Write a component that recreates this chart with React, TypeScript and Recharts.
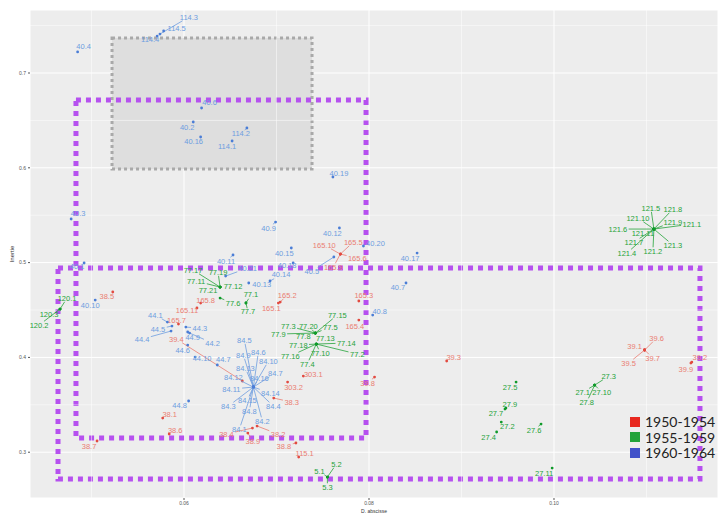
import React from 'react';
import {
  ScatterChart, Scatter, XAxis, YAxis, CartesianGrid, ReferenceArea, ReferenceLine,
} from 'recharts';

// points per period (x = D. abscisse, y = Inertie)
const red1950 = [
  { name: '165.10', x: 0.0769, y: 0.509 }, { name: '165.5', x: 0.0769, y: 0.509 },
  { name: '165.6', x: 0.0769, y: 0.509 }, { name: '165.9', x: 0.0769, y: 0.509 },
  { name: '165.3', x: 0.0789, y: 0.4595 }, { name: '165.4', x: 0.0789, y: 0.4394 },
  { name: '165.2', x: 0.0704, y: 0.4584 }, { name: '165.1', x: 0.0702, y: 0.4573 },
  { name: '165.8', x: 0.0618, y: 0.4573 }, { name: '165.11', x: 0.0614, y: 0.4521 },
  { name: '165.7', x: 0.0594, y: 0.4352 }, { name: '39.4', x: 0.0663, y: 0.3751 },
  { name: '38.5', x: 0.0523, y: 0.469 }, { name: '38.1', x: 0.0577, y: 0.336 },
  { name: '38.6', x: 0.0584, y: 0.3192 }, { name: '38.7', x: 0.0506, y: 0.3118 },
  { name: '38.3', x: 0.0697, y: 0.3571 }, { name: '303.2', x: 0.0712, y: 0.374 },
  { name: '303.1', x: 0.0729, y: 0.3803 }, { name: '38.4', x: 0.0674, y: 0.3255 },
  { name: '38.2', x: 0.0679, y: 0.3276 }, { name: '38.9', x: 0.0669, y: 0.3202 },
  { name: '38.8', x: 0.0721, y: 0.3097 }, { name: '115.1', x: 0.0724, y: 0.2949 },
  { name: '39.3', x: 0.0884, y: 0.3962 }, { name: '39.8', x: 0.0806, y: 0.3793 },
  { name: '39.1', x: 0.1098, y: 0.4078 }, { name: '39.6', x: 0.1098, y: 0.4078 },
  { name: '39.5', x: 0.1098, y: 0.4078 }, { name: '39.7', x: 0.1098, y: 0.4078 },
  { name: '39.2', x: 0.1149, y: 0.3951 }, { name: '39.9', x: 0.1148, y: 0.394 },
];

const green1955 = [
  { name: '121.5', x: 0.1108, y: 0.5354 }, { name: '121.8', x: 0.1108, y: 0.5354 },
  { name: '121.10', x: 0.1108, y: 0.5354 }, { name: '121.9', x: 0.1108, y: 0.5354 },
  { name: '121.1', x: 0.1108, y: 0.5354 }, { name: '121.6', x: 0.1108, y: 0.5354 },
  { name: '121.11', x: 0.1108, y: 0.5354 }, { name: '121.7', x: 0.1108, y: 0.5354 },
  { name: '121.3', x: 0.1108, y: 0.5354 }, { name: '121.2', x: 0.1108, y: 0.5354 },
  { name: '121.4', x: 0.1108, y: 0.5354 },
  { name: '120.1', x: 0.0466, y: 0.451 }, { name: '120.3', x: 0.0466, y: 0.451 },
  { name: '120.2', x: 0.0466, y: 0.451 },
  { name: '77.17', x: 0.0639, y: 0.4742 }, { name: '77.19', x: 0.0639, y: 0.4742 },
  { name: '77.11', x: 0.0639, y: 0.4742 }, { name: '77.12', x: 0.0639, y: 0.4742 },
  { name: '77.21', x: 0.0639, y: 0.4742 }, { name: '77.6', x: 0.0639, y: 0.4626 },
  { name: '77.1', x: 0.0667, y: 0.4574 }, { name: '77.7', x: 0.0667, y: 0.4574 },
  { name: '77.15', x: 0.0742, y: 0.4257 }, { name: '77.3', x: 0.0742, y: 0.4257 },
  { name: '77.20', x: 0.0742, y: 0.4257 }, { name: '77.5', x: 0.0742, y: 0.4257 },
  { name: '77.9', x: 0.0742, y: 0.4257 }, { name: '77.8', x: 0.0742, y: 0.4257 },
  { name: '77.13', x: 0.0742, y: 0.4257 },
  { name: '77.18', x: 0.0743, y: 0.4141 }, { name: '77.14', x: 0.0743, y: 0.4141 },
  { name: '77.2', x: 0.0743, y: 0.4141 }, { name: '77.10', x: 0.0743, y: 0.4141 },
  { name: '77.16', x: 0.0743, y: 0.4141 }, { name: '77.4', x: 0.0743, y: 0.4141 },
  { name: '5.1', x: 0.0755, y: 0.2738 }, { name: '5.2', x: 0.0755, y: 0.2738 },
  { name: '5.3', x: 0.0755, y: 0.2738 },
  { name: '27.5', x: 0.0959, y: 0.374 }, { name: '27.9', x: 0.0948, y: 0.3466 },
  { name: '27.7', x: 0.0947, y: 0.3455 }, { name: '27.2', x: 0.0943, y: 0.3318 },
  { name: '27.4', x: 0.0938, y: 0.3213 }, { name: '27.6', x: 0.0986, y: 0.3297 },
  { name: '27.11', x: 0.0998, y: 0.2833 },
  { name: '27.3', x: 0.1044, y: 0.3708 }, { name: '27.1', x: 0.1044, y: 0.3708 },
  { name: '27.10', x: 0.1044, y: 0.3708 }, { name: '27.8', x: 0.1044, y: 0.3708 },
];

const blue1960 = [
  { name: '114.3', x: 0.0574, y: 0.7411 }, { name: '114.5', x: 0.0578, y: 0.7443 },
  { name: '114.4', x: 0.0571, y: 0.739 }, { name: '40.4', x: 0.0485, y: 0.7222 },
  { name: '40.6', x: 0.0619, y: 0.6631 }, { name: '40.2', x: 0.061, y: 0.6483 },
  { name: '40.16', x: 0.0618, y: 0.6325 }, { name: '114.2', x: 0.0668, y: 0.642 },
  { name: '114.1', x: 0.0652, y: 0.6283 }, { name: '40.19', x: 0.0761, y: 0.5903 },
  { name: '40.3', x: 0.0478, y: 0.546 }, { name: '40.9', x: 0.0699, y: 0.5428 },
  { name: '40.12', x: 0.0768, y: 0.5365 }, { name: '40.15', x: 0.0716, y: 0.5154 },
  { name: '40.11', x: 0.0653, y: 0.508 }, { name: '40.20', x: 0.0794, y: 0.5175 },
  { name: '40.17', x: 0.0852, y: 0.5101 }, { name: '40.7', x: 0.084, y: 0.4785 },
  { name: '40.8', x: 0.0804, y: 0.4447 }, { name: '40.1', x: 0.0492, y: 0.4996 },
  { name: '40.10', x: 0.0504, y: 0.4605 }, { name: '40.18', x: 0.0718, y: 0.4996 },
  { name: '40.5', x: 0.0762, y: 0.5059 }, { name: '40.21', x: 0.0645, y: 0.4858 },
  { name: '40.14', x: 0.0693, y: 0.4806 }, { name: '40.13', x: 0.067, y: 0.4785 },
  { name: '44.1', x: 0.0582, y: 0.4373 }, { name: '44.5', x: 0.0587, y: 0.4331 },
  { name: '44.4', x: 0.0586, y: 0.4278 }, { name: '44.3', x: 0.0602, y: 0.432 },
  { name: '44.9', x: 0.0604, y: 0.4268 }, { name: '44.2', x: 0.0606, y: 0.4257 },
  { name: '44.6', x: 0.0604, y: 0.413 }, { name: '44.10', x: 0.0612, y: 0.4004 },
  { name: '44.7', x: 0.0636, y: 0.392 }, { name: '44.8', x: 0.0605, y: 0.354 },
  { name: '84.5', x: 0.0675, y: 0.3687 }, { name: '84.9', x: 0.0675, y: 0.3687 },
  { name: '84.6', x: 0.0675, y: 0.3687 }, { name: '84.10', x: 0.0675, y: 0.3687 },
  { name: '84.13', x: 0.0675, y: 0.3687 }, { name: '84.7', x: 0.0675, y: 0.3687 },
  { name: '84.12', x: 0.0675, y: 0.3687 }, { name: '84.16', x: 0.0675, y: 0.3687 },
  { name: '84.11', x: 0.0675, y: 0.3687 }, { name: '84.14', x: 0.0675, y: 0.3687 },
  { name: '84.15', x: 0.0675, y: 0.3687 }, { name: '84.3', x: 0.0675, y: 0.3687 },
  { name: '84.4', x: 0.0675, y: 0.3687 }, { name: '84.8', x: 0.0675, y: 0.3687 },
  { name: '84.1', x: 0.0675, y: 0.3687 }, { name: '84.2', x: 0.0675, y: 0.3687 },
];

const xTicks = [0.06, 0.08, 0.10];
const yTicks = [0.3, 0.4, 0.5, 0.6, 0.7];
const xMinor = [0.05, 0.07, 0.09, 0.11];
const yMinor = [0.35, 0.45, 0.55, 0.65, 0.75];

// label nudges (px), like ggrepel placed them
const nudge: Record<string, [number, number]> = {
  '165.10': [-16, -9], '165.5': [13, -12], '165.6': [17, 4], '165.9': [-7, 13],
  '165.3': [5, -6], '165.4': [-4, 6], '165.2': [7, -7], '165.1': [-7, 5],
  '165.8': [5, -3], '165.11': [-10, 2], '165.7': [-2, -4], '39.4': [-66, -42],
  '38.5': [-6, 5], '38.1': [7, -4], '38.6': [6, -4], '38.7': [-8, 5],
  '38.3': [18, 4], '303.2': [6, 5], '303.1': [10, -2], '38.4': [-26, 6],
  '38.2': [21, 8], '38.9': [5, 8], '38.8': [-12, 3], '115.1': [6, -4],
  '39.3': [7, -4], '39.8': [-7, 6], '39.1': [-10, -4], '39.6': [12, -12],
  '39.5': [-16, 13], '39.7': [8, 8], '39.2': [8, -5], '39.9': [-5, 6],
  '121.5': [-3, -21], '121.8': [19, -20], '121.10': [-16, -11], '121.9': [19, -7],
  '121.1': [38, -5], '121.6': [-36, 0], '121.11': [-11, 4], '121.7': [-20, 13],
  '121.3': [19, 16], '121.2': [-1, 22], '121.4': [-27, 24],
  '120.1': [7, -11], '120.3': [-11, 5], '120.2': [-21, 16],
  '77.17': [-27, -17], '77.19': [-2, -15], '77.11': [-24, -6], '77.12': [13, -1],
  '77.21': [-12, 3], '77.6': [13, 5], '77.1': [5, -8], '77.7': [2, 9],
  '77.15': [22, -18], '77.3': [-27, -7], '77.20': [-7, -7], '77.5': [15, -6],
  '77.9': [-37, 1], '77.8': [-12, 3], '77.13': [10, 5],
  '77.18': [-18, 1], '77.14': [30, -1], '77.2': [41, 10], '77.10': [4, 9],
  '77.16': [-26, 12], '77.4': [-9, 20],
  '5.1': [-8, -6], '5.2': [9, -13], '5.3': [0, 10],
  '27.5': [-6, 5], '27.9': [4, -4], '27.7': [-9, 4], '27.2': [6, 4],
  '27.4': [-8, 5], '27.6': [-7, 6], '27.11': [-8, 5],
  '27.3': [14, -9], '27.1': [-12, 7], '27.10': [7, 7], '27.8': [-8, 17],
  '114.3': [29, -17], '114.5': [13, -3], '114.4': [-7, 3], '40.4': [6, -5],
  '40.6': [8, -5], '40.2': [-6, 5], '40.16': [-7, 5], '114.2': [-6, 6],
  '114.1': [-5, 6], '40.19': [6, -4], '40.3': [7, -5], '40.9': [-7, 6],
  '40.12': [-7, 5], '40.15': [-7, 5], '40.11': [-7, 6], '40.20': [12, -3],
  '40.17': [-7, 5], '40.7': [-8, 5], '40.8': [7, -4], '40.1': [-7, 4],
  '40.10': [-5, 5], '40.18': [-6, 3], '40.5': [-22, 14], '40.21': [22, -8],
  '40.14': [11, -6], '40.13': [13, 2],
  '44.1': [-12, -7], '44.5': [-14, 3], '44.4': [-29, 8], '44.3': [14, 1],
  '44.9': [5, 5], '44.2': [23, 10], '44.6': [-5, 5], '44.10': [7, 1],
  '44.7': [6, -5], '44.8': [-9, 4],
  '84.5': [-9, -47], '84.9': [-10, -32], '84.6': [5, -35], '84.10': [15, -26],
  '84.13': [-8, -19], '84.7': [22, -14], '84.12': [-20, -10], '84.16': [6, -9],
  '84.11': [-22, 2], '84.14': [17, 6], '84.15': [-6, 13], '84.3': [-25, 19],
  '84.4': [20, 19], '84.8': [-4, 24], '84.1': [-14, 42], '84.2': [9, 34],
};

const FONT = 'Liberation Sans, Arial, sans-serif';
const LABEL_SIZE = 7.5;

function makeShape(dotColor: string, textColor: string) {
  return (props: any) => {
    const { cx, cy, payload } = props;
    if (cx == null || cy == null) return <g />;
    const [dx, dy] = nudge[payload.name] || [6, -5];
    const hw = (payload.name.length * LABEL_SIZE * 0.52) / 2 + 1;
    const hh = LABEL_SIZE * 0.5;
    const s = Math.min(dx ? hw / Math.abs(dx) : Infinity, dy ? hh / Math.abs(dy) : Infinity);
    const segLen = Math.hypot(dx, dy) * (1 - s);
    return (
      <g>
        {s < 1 && segLen > 3 && (
          <line x1={cx} y1={cy} x2={cx + dx * (1 - s)} y2={cy + dy * (1 - s)} stroke={textColor} strokeWidth={0.8} />
        )}
        <circle cx={cx} cy={cy} r={1.4} fill={dotColor} />
        <text x={cx + dx} y={cy + dy} textAnchor="middle" dominantBaseline="central"
          fontSize={LABEL_SIZE} fontFamily={FONT} fill={textColor}>
          {payload.name}
        </text>
      </g>
    );
  };
}

const periods = ['1950-1954', '1955-1959', '1960-1964'];
const legendColors = ['#e8281f', '#22a33a', '#4152c9'];

function LegendBox() {
  return (
    <div style={{
      position: 'absolute', left: 630, top: 414, fontFamily: 'Lato, sans-serif', fontSize: 14,
      color: '#222', whiteSpace: 'nowrap', lineHeight: '15.5px',
    }}>
      {periods.map((p, i) => (
        <div key={p} style={{ display: 'flex', alignItems: 'center', height: 15.5 }}>
          <span style={{ width: 10, height: 10, background: legendColors[i], marginRight: 5, display: 'inline-block' }} />
          <span>{p}</span>
        </div>
      ))}
    </div>
  );
}

export default function App() {
  return (
    <div style={{ position: 'absolute', left: 0, top: 0, width: 723, height: 513, background: '#fff' }}>
      <ScatterChart width={723} height={513} margin={{ top: 10, right: 5, bottom: 0, left: 8 }}>
        <CartesianGrid fill="#ededed" stroke="#ffffff" strokeWidth={1} />
        {xMinor.map((v) => (
          <ReferenceLine key={'vx' + v} x={v} stroke="#ffffff" strokeWidth={0.5} />
        ))}
        {yMinor.map((v) => (
          <ReferenceLine key={'hy' + v} y={v} stroke="#ffffff" strokeWidth={0.5} />
        ))}
        <XAxis
          type="number" dataKey="x" domain={[0.043351, 0.11773]} ticks={xTicks}
          tickFormatter={(v) => v.toFixed(2)} axisLine={false} tickSize={2} tickMargin={1}
          tickLine={{ stroke: '#555' }} tick={{ fontSize: 5, fill: '#555', fontFamily: FONT }}
          height={15} allowDataOverflow
          label={{ value: 'D. abscisse', position: 'insideBottom', offset: 0, style: { fontSize: 5, fill: '#333', fontFamily: FONT } }}
        />
        <YAxis
          type="number" dataKey="y" domain={[0.2517, 0.76646]} ticks={yTicks}
          tickFormatter={(v) => v.toFixed(1)} axisLine={false} tickSize={2}
          tickLine={{ stroke: '#555' }} tick={{ fontSize: 5, fill: '#555', fontFamily: FONT }}
          width={22} allowDataOverflow
          label={{ value: 'Inertie', angle: -90, position: 'insideLeft', offset: 4, style: { fontSize: 6, fill: '#333', fontFamily: FONT, textAnchor: 'middle' } }}
        />
        <ReferenceArea x1={0.05222} x2={0.07384} y1={0.5987} y2={0.7369}
          fill="#dedede" fillOpacity={1} stroke="#a9a9a9" strokeWidth={3} strokeDasharray="3 3" />
        <Scatter name={periods[0]} data={red1950} isAnimationActive={false} shape={makeShape('#e24a40', '#ea7d72')} />
        <Scatter name={periods[1]} data={green1955} isAnimationActive={false} shape={makeShape('#0f9a2a', '#25a33a')} />
        <Scatter name={periods[2]} data={blue1960} isAnimationActive={false} shape={makeShape('#4a7dd6', '#6d9de0')} />
        <ReferenceArea x1={0.04832} x2={0.07968} y1={0.315} y2={0.6715}
          fill="none" fillOpacity={0} stroke="#b651ef" strokeWidth={5} strokeDasharray="5 5" />
        <ReferenceArea x1={0.04638} x2={0.11578} y1={0.2717} y2={0.4943}
          fill="none" fillOpacity={0} stroke="#b651ef" strokeWidth={5} strokeDasharray="5 5" />
      </ScatterChart>
      <LegendBox />
    </div>
  );
}
